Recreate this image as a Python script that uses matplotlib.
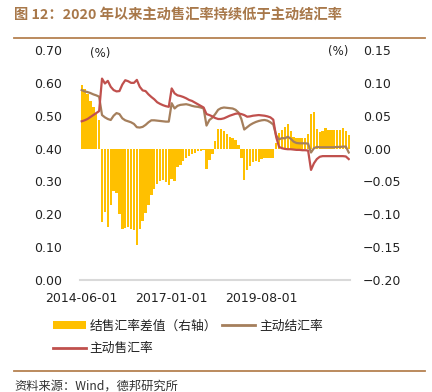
import matplotlib
matplotlib.use("Agg")
import matplotlib.pyplot as plt
import numpy as np
import pandas as pd
from matplotlib.patches import Patch
from matplotlib.lines import Line2D

plt.rcParams['font.family'] = ['Noto Sans CJK SC', 'DejaVu Sans']

# ---------------- data ----------------
months = pd.date_range("2014-06-01", "2022-02-01", freq="MS")
tick_idx = [0, 31, 62]
tick_labels = ["2014-06-01", "2017-01-01", "2019-08-01"]

diff = [0.097, 0.091, 0.083, 0.072, 0.063, 0.053, 0.044, -0.111, -0.097, -0.119,
        -0.086, -0.065, -0.068, -0.100, -0.122, -0.121, -0.120, -0.122, -0.124, -0.146,
        -0.122, -0.110, -0.098, -0.086, -0.071, -0.062, -0.054, -0.049, -0.048, -0.051,
        -0.055, -0.046, -0.050, -0.028, -0.025, -0.019, -0.015, -0.011, -0.008, -0.006,
        -0.004, -0.003, -0.002, -0.031, -0.018, -0.008, 0.012, 0.030, 0.030, 0.027,
        0.022, 0.018, 0.016, 0.013, 0.005, -0.015, -0.048, -0.033, -0.027, -0.021,
        -0.019, -0.021, -0.016, -0.015, -0.015, -0.015, -0.015, 0.008, 0.023, 0.028,
        0.033, 0.038, 0.026, 0.018, 0.016, 0.016, 0.016, 0.016, 0.022, 0.052,
        0.055, 0.030, 0.025, 0.027, 0.031, 0.028, 0.028, 0.028, 0.028, 0.029,
        0.031, 0.027, 0.021]

settle = [0.578, 0.574, 0.572, 0.569, 0.565, 0.562, 0.558, 0.502, 0.495, 0.490,
          0.487, 0.500, 0.508, 0.505, 0.492, 0.486, 0.483, 0.480, 0.475, 0.465,
          0.464, 0.466, 0.472, 0.480, 0.486, 0.486, 0.485, 0.484, 0.483, 0.482,
          0.482, 0.538, 0.522, 0.530, 0.533, 0.534, 0.535, 0.533, 0.530, 0.528,
          0.527, 0.525, 0.522, 0.470, 0.487, 0.494, 0.505, 0.518, 0.523, 0.525,
          0.524, 0.523, 0.522, 0.518, 0.510, 0.490, 0.458, 0.465, 0.472, 0.477,
          0.481, 0.484, 0.486, 0.487, 0.485, 0.480, 0.473, 0.440, 0.428, 0.432,
          0.431, 0.436, 0.430, 0.421, 0.417, 0.416, 0.416, 0.416, 0.415, 0.388,
          0.401, 0.405, 0.404, 0.404, 0.404, 0.404, 0.404, 0.404, 0.405, 0.405,
          0.406, 0.406, 0.388]

sell = [0.483, 0.486, 0.490, 0.496, 0.502, 0.508, 0.514, 0.613, 0.598, 0.606,
        0.588, 0.578, 0.574, 0.575, 0.595, 0.608, 0.605, 0.600, 0.600, 0.609,
        0.588, 0.577, 0.575, 0.565, 0.557, 0.550, 0.541, 0.536, 0.532, 0.529,
        0.527, 0.583, 0.568, 0.562, 0.560, 0.557, 0.553, 0.548, 0.545, 0.540,
        0.535, 0.530, 0.525, 0.505, 0.502, 0.498, 0.493, 0.490, 0.490, 0.492,
        0.496, 0.500, 0.503, 0.506, 0.507, 0.505, 0.502, 0.497, 0.498, 0.500,
        0.501, 0.502, 0.501, 0.500, 0.498, 0.495, 0.488, 0.435, 0.405, 0.401,
        0.399, 0.398, 0.398, 0.397, 0.396, 0.396, 0.395, 0.395, 0.394, 0.335,
        0.355, 0.368, 0.375, 0.377, 0.377, 0.377, 0.377, 0.377, 0.377, 0.377,
        0.377, 0.376, 0.368]

left_ticks = [0.0, 0.1, 0.2, 0.3, 0.4, 0.5, 0.6, 0.7]
right_ticks = [-0.20, -0.15, -0.10, -0.05, 0.0, 0.05, 0.10, 0.15]

# ---------------- style ----------------
c_bar = '#FFC000'
c_settle = '#A57F5C'
c_sell = '#C0504D'
c_title = '#A8784A'
c_rule = '#B58150'

W, H = 432, 392
fig = plt.figure(figsize=(W / 100, H / 100), dpi=100)

ax_l, ax_r = 80.25 / W, 350.2 / W
ax_t, ax_b = 50 / H, 280 / H
ax = fig.add_axes([ax_l, 1 - ax_b, ax_r - ax_l, ax_b - ax_t])
ax2 = ax.twinx()

x = np.arange(len(months))
ax2.bar(x, diff, width=0.82, color=c_bar, linewidth=0)
ax.plot(x, settle, color=c_settle, lw=1.6)
ax.plot(x, sell, color=c_sell, lw=1.6)

ax.set_zorder(ax2.get_zorder() + 1)
ax.patch.set_visible(False)

ax.set_xlim(-0.5, len(months) - 0.5)
ax.set_ylim(0, 0.7)
ax2.set_ylim(-0.20, 0.15)

ax.set_yticks(left_ticks)
ax.set_yticklabels([f"{v:.2f}" for v in left_ticks])
ax2.set_yticks(right_ticks)
ax2.set_yticklabels([f"{v:.2f}".replace("-", "\u2212") for v in right_ticks])
ax.set_xticks(tick_idx)
ax.set_xticklabels(tick_labels)

for a in (ax, ax2):
    for s in a.spines.values():
        s.set_visible(False)
ax.spines['bottom'].set_visible(True)
ax.spines['bottom'].set_color('#D9D9D9')
ax.spines['bottom'].set_linewidth(1.5)

ax.tick_params(axis='y', length=0, pad=13, labelsize=9, labelcolor='#222222')
ax2.tick_params(axis='y', length=0, pad=9, labelsize=9, labelcolor='#222222')
ax.tick_params(axis='x', length=0, pad=9, labelsize=9, labelcolor='#222222')
for lab in ax.get_yticklabels() + ax2.get_yticklabels() + ax.get_xticklabels():
    lab.set_family('DejaVu Sans')

fig.text(100 / W, 1 - 53 / H, "(%)", ha='center', va='center', fontsize=8.5,
         color='#222222', family='DejaVu Sans')
fig.text(338 / W, 1 - 52 / H, "(%)", ha='center', va='center', fontsize=8.5,
         color='#222222', family='DejaVu Sans')

# title and rules
fig.text(14 / W, 1 - 15 / H, "图 12：2020 年以来主动售汇率持续低于主动结汇率",
         ha='left', va='center', fontsize=10.3, fontweight='bold', color=c_title)
fig.add_artist(Line2D([14 / W, 425 / W], [1 - 37.7 / H, 1 - 37.7 / H],
                      color=c_rule, lw=1.3, transform=fig.transFigure))
fig.add_artist(Line2D([14 / W, 425 / W], [1 - 371 / H, 1 - 371 / H],
                      color=c_rule, lw=1.3, transform=fig.transFigure))
fig.text(14 / W, 1 - 386 / H, "资料来源：Wind，德邦研究所", ha='left', va='center',
         fontsize=8.8, color='#333333')

# legend
handles = [Patch(facecolor=c_bar, edgecolor='none'),
           Line2D([], [], color=c_sell, lw=2),
           Line2D([], [], color=c_settle, lw=2)]
labels = ["结售汇率差值（右轴）", "主动售汇率", "主动结汇率"]
fig.legend(handles, labels, ncol=2, loc='upper left',
           bbox_to_anchor=(50 / W, 1 - 317 / H), frameon=False,
           fontsize=9.2, handlelength=2.6, handleheight=0.6, handletextpad=0.3,
           columnspacing=0.4, labelspacing=0.75, borderaxespad=0, borderpad=0.2,
           labelcolor='#222222')

fig.savefig("out.png", dpi=100)
